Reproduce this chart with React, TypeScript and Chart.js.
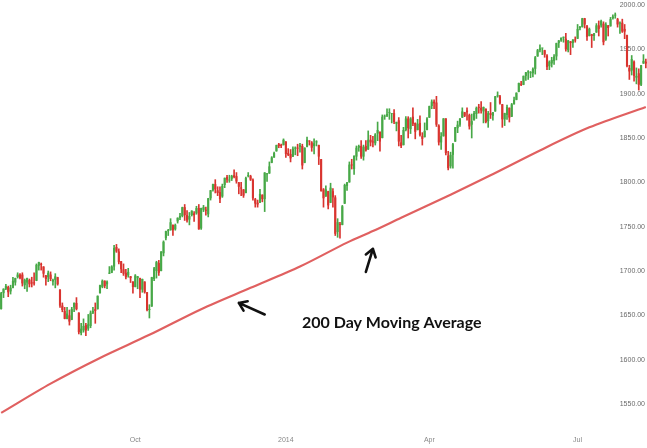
import React, { useEffect, useRef } from 'react';
import { Chart, registerables } from 'chart.js';

Chart.register(...registerables);

// ---------- categories (trading days) ----------
const startDate = '2013-07-11';
const endDate = '2014-08-12';
const marketHolidays = [
  '2013-09-02', '2013-11-28', '2013-12-25', '2014-01-01', '2014-01-20',
  '2014-02-17', '2014-04-18', '2014-05-26', '2014-07-04',
];

function buildTradingDays(): string[] {
  const out: string[] = [];
  const d = new Date(startDate + 'T00:00:00Z');
  const end = new Date(endDate + 'T00:00:00Z');
  while (d <= end) {
    const wd = d.getUTCDay();
    const s = d.toISOString().slice(0, 10);
    if (wd !== 0 && wd !== 6 && !marketHolidays.includes(s)) out.push(s);
    d.setUTCDate(d.getUTCDate() + 1);
  }
  return out;
}
const dates = buildTradingDays();

// ---------- OHLC series ----------
const opens = [
  // Jul 2013
  1657,1675,1680,1682,1677,1681,1687,1693,1696,1696,1684,1687,1690,1687,1687,
  // Aug
  1689,1706,1708,1705,1695,1693,1696,1688,1690,1693,1679,1661,1655,1646,1650,1645,1659,1664,1653,1630,1633,1639,
  // Sep
  1635,1638,1653,1657,1657,1675,1682,1689,1685,1697,1698,1705,1727,1722,1711,1702,1698,1695,1694,1688,
  // Oct
  1682,1692,1692,1679,1688,1676,1656,1660,1691,1700,1709,1700,1720,1737,1745,1746,1752,1747,1756,1760,1762,1772,1763,
  // Nov
  1758,1763,1765,1765,1771,1748,1769,1769,1764,1782,1791,1798,1791,1789,1784,1797,1806,1802,1804,1808,
  // Dec
  1807,1800,1794,1792,1788,1807,1807,1803,1781,1777,1777,1786,1781,1809,1810,1822,1828,1835,1843,1842,1842,
  // Jan 2014
  1846,1833,1832,1829,1838,1839,1840,1841,1822,1840,1847,1845,1841,1845,1842,1826,1792,1784,1790,1777,1790,
  // Feb
  1783,1744,1753,1752,1776,1796,1800,1820,1815,1829,1839,1841,1829,1841,1837,1848,1846,1844,1855,
  // Mar
  1857,1850,1874,1875,1878,1877,1878,1866,1870,1845,1842,1859,1872,1860,1874,1867,1859,1867,1852,1851,1859,
  // Apr
  1873,1886,1891,1890,1864,1845,1852,1872,1830,1818,1831,1846,1861,1865,1873,1879,1881,1876,1865,1870,1877,
  // May
  1885,1884,1880,1883,1869,1878,1875,1880,1897,1897,1888,1871,1876,1884,1874,1888,1893,1902,1911,1910,1920,
  // Jun
  1924,1923,1923,1928,1942,1949,1951,1949,1943,1931,1934,1937,1942,1957,1960,1963,1962,1949,1959,1957,1961,
  // Jul
  1962,1974,1975,1985,1976,1965,1967,1965,1969,1977,1977,1979,1961,1977,1976,1985,1988,1984,1979,1980,1973,1966,
  // Aug
  1929,1926,1936,1918,1923,1910,1934,1936,
];
const highs = [
  1676,1680,1685,1683,1684,1693,1692,1698,1697,1698,1691,1692,1691,1693,1698,
  1708,1710,1709,1705,1695,1700,1699,1691,1697,1693,1679,1664,1659,1659,1656,1659,1664,1670,1653,1641,1646,1641,
  1651,1655,1659,1664,1672,1684,1690,1689,1689,1705,1706,1729,1730,1725,1711,1708,1702,1703,1694,1688,
  1696,1694,1692,1691,1688,1676,1662,1693,1704,1711,1712,1722,1734,1745,1747,1759,1752,1753,1760,1765,1772,1775,1768,
  1766,1768,1767,1773,1775,1771,1774,1772,1782,1791,1798,1803,1795,1795,1798,1805,1808,1808,1808,1814,
  1811,1800,1800,1792,1806,1811,1808,1804,1782,1780,1792,1786,1811,1810,1823,1829,1834,1842,1844,1843,1849,
  1846,1838,1837,1840,1840,1843,1844,1843,1839,1851,1847,1846,1849,1847,1842,1826,1793,1796,1790,1799,1793,
  1785,1759,1755,1774,1798,1800,1823,1826,1830,1841,1842,1847,1842,1847,1858,1853,1852,1855,1868,
  1857,1876,1876,1883,1883,1877,1882,1868,1873,1853,1862,1874,1874,1873,1884,1867,1871,1875,1856,1867,1873,
  1886,1893,1893,1897,1865,1856,1872,1872,1835,1834,1844,1862,1869,1872,1884,1879,1884,1877,1877,1880,1885,
  1888,1891,1885,1883,1880,1890,1879,1897,1902,1898,1888,1878,1887,1884,1889,1896,1901,1912,1914,1920,1924,
  1926,1925,1929,1942,1950,1955,1951,1949,1944,1937,1941,1944,1957,1960,1963,1964,1968,1960,1959,1961,1964,
  1978,1976,1985,1985,1977,1974,1967,1968,1979,1982,1983,1981,1980,1977,1986,1989,1991,1985,1981,1984,1978,1966,
  1932,1943,1937,1929,1928,1932,1944,1939,
];
const lows = [
  1657,1670,1679,1671,1674,1681,1684,1692,1691,1683,1680,1677,1682,1682,1684,
  1689,1701,1701,1693,1684,1688,1689,1684,1681,1684,1659,1654,1646,1646,1639,1645,1654,1656,1629,1628,1631,1627,
  1633,1636,1652,1641,1657,1675,1681,1681,1680,1697,1698,1701,1721,1708,1698,1695,1691,1693,1687,1675,
  1682,1680,1670,1676,1675,1655,1647,1660,1689,1692,1695,1700,1717,1735,1740,1746,1740,1746,1754,1758,1761,1757,1755,
  1752,1762,1756,1764,1747,1747,1767,1763,1761,1780,1790,1788,1785,1777,1783,1794,1800,1800,1802,1805,
  1799,1787,1785,1783,1788,1806,1802,1780,1772,1772,1777,1778,1767,1801,1810,1822,1828,1835,1839,1839,1842,
  1828,1830,1823,1829,1831,1830,1834,1815,1822,1840,1842,1835,1832,1841,1820,1790,1772,1784,1770,1777,1772,
  1740,1738,1737,1752,1776,1791,1800,1815,1809,1825,1835,1827,1825,1835,1837,1841,1840,1842,1847,
  1835,1850,1871,1874,1871,1867,1866,1858,1841,1839,1842,1858,1850,1855,1864,1849,1859,1852,1842,1851,1859,
  1873,1883,1883,1863,1842,1837,1852,1831,1814,1816,1816,1846,1856,1863,1873,1874,1870,1860,1850,1870,1872,
  1878,1878,1867,1867,1862,1872,1870,1880,1896,1888,1862,1864,1871,1868,1874,1888,1893,1902,1909,1910,1915,
  1916,1918,1919,1922,1942,1947,1944,1941,1927,1927,1930,1933,1938,1952,1959,1958,1948,1947,1944,1952,1958,
  1962,1972,1975,1974,1960,1965,1952,1960,1969,1965,1975,1955,1960,1965,1976,1984,1985,1975,1968,1969,1962,1930,
  1916,1921,1914,1911,1904,1909,1934,1929,
];
const closes = [
  1675,1680,1683,1676,1681,1689,1692,1696,1692,1686,1690,1692,1685,1686,1686,
  1707,1710,1707,1697,1691,1698,1691,1690,1694,1685,1661,1656,1646,1652,1643,1657,1664,1657,1631,1635,1638,1633,
  1640,1653,1655,1655,1672,1684,1689,1683,1688,1698,1705,1726,1722,1710,1702,1697,1693,1699,1692,1682,
  1695,1694,1679,1691,1676,1656,1656,1693,1703,1710,1698,1722,1733,1745,1745,1755,1746,1752,1760,1762,1772,1763,1757,
  1762,1768,1763,1771,1747,1771,1772,1768,1782,1791,1798,1792,1788,1781,1796,1805,1803,1803,1807,1806,
  1801,1795,1793,1785,1805,1808,1803,1782,1776,1775,1787,1781,1811,1810,1818,1828,1833,1842,1841,1841,1848,
  1832,1831,1827,1838,1838,1838,1842,1819,1839,1848,1846,1839,1844,1845,1829,1790,1782,1792,1774,1794,1783,
  1742,1755,1752,1773,1797,1800,1820,1819,1830,1839,1841,1829,1840,1836,1848,1845,1845,1854,1859,
  1846,1874,1874,1877,1878,1877,1868,1868,1846,1841,1859,1872,1861,1872,1866,1857,1866,1853,1849,1858,1872,
  1886,1891,1889,1865,1845,1852,1872,1833,1816,1831,1843,1862,1865,1872,1880,1875,1879,1863,1869,1878,1884,
  1884,1881,1885,1868,1878,1876,1879,1897,1897,1889,1871,1878,1885,1873,1888,1893,1901,1912,1910,1920,1924,
  1925,1924,1928,1941,1949,1951,1951,1944,1930,1936,1938,1942,1957,1960,1963,1963,1950,1960,1957,1961,1960,
  1973,1975,1985,1978,1964,1973,1965,1968,1977,1973,1982,1958,1978,1974,1984,1987,1988,1978,1979,1970,1970,1931,
  1925,1939,1920,1920,1910,1932,1937,1934,
];

// ---------- 200 day moving average ----------
const maDates = [
  '2013-07-11', '2013-08-09', '2013-09-10', '2013-10-09', '2013-11-08', '2013-12-10',
  '2014-01-10', '2014-02-10', '2014-02-26', '2014-03-14', '2014-04-14', '2014-05-08',
  '2014-06-09', '2014-07-09', '2014-08-12',
];
const maValues = [
  1540, 1573, 1602, 1628, 1657, 1681,
  1705, 1732, 1745, 1760, 1786, 1808,
  1836, 1862, 1885,
];

// ---------- axis ticks ----------
const yTickValues = [1550, 1600, 1650, 1700, 1750, 1800, 1850, 1900, 1950, 2000];
const xTickDates = ['2013-10-01', '2014-01-02', '2014-04-01', '2014-07-01'];
const xTickLabels = ['Oct', '2014', 'Apr', 'Jul'];

// ---------- annotations (in data coordinates) ----------
const annotationText = '200 Day Moving Average';
const annotationTextDate = '2014-03-10';
const annotationTextValue = 1642;
const arrowTipDates = ['2013-12-03', '2014-02-26'];
const arrowTipValues = [1664, 1725];
const arrowTailDates = ['2013-12-18', '2014-02-21'];
const arrowTailValues = [1651, 1699];

const UP = '#47a847';
const DOWN = '#d9342f';

const annotationPlugin = {
  id: 'maAnnotations',
  afterDraw(chart: any) {
    const { ctx, scales } = chart;
    const x = scales.x;
    const y = scales.y;
    const px = (d: string) => x.getPixelForValue(dates.indexOf(d));
    ctx.save();
    ctx.strokeStyle = '#111';
    ctx.lineWidth = 2.6;
    ctx.lineCap = 'round';
    ctx.lineJoin = 'round';
    for (let i = 0; i < arrowTipDates.length; i++) {
      const tx = px(arrowTipDates[i]);
      const ty = y.getPixelForValue(arrowTipValues[i]);
      const sx = px(arrowTailDates[i]);
      const sy = y.getPixelForValue(arrowTailValues[i]);
      const ang = Math.atan2(ty - sy, tx - sx);
      const hl = 9;
      ctx.beginPath();
      ctx.moveTo(sx, sy);
      ctx.lineTo(tx, ty);
      ctx.moveTo(tx - hl * Math.cos(ang - 0.6), ty - hl * Math.sin(ang - 0.6));
      ctx.lineTo(tx, ty);
      ctx.lineTo(tx - hl * Math.cos(ang + 0.6), ty - hl * Math.sin(ang + 0.6));
      ctx.stroke();
    }
    ctx.fillStyle = '#111';
    ctx.font = 'bold 16px Lato, "Open Sans", sans-serif';
    ctx.textAlign = 'center';
    ctx.textBaseline = 'middle';
    ctx.fillText(annotationText, px(annotationTextDate), y.getPixelForValue(annotationTextValue));
    ctx.restore();
  },
};

export default function App() {
  const canvasRef = useRef<HTMLCanvasElement | null>(null);

  useEffect(() => {
    if (!canvasRef.current) return;
    const bodyData = opens.map((o, i) => [o, closes[i]]);
    const wickData = lows.map((l, i) => [l, highs[i]]);
    const colors = opens.map((o, i) => (closes[i] >= o ? UP : DOWN));
    const maData = maDates.map((d, i) => ({ x: d, y: maValues[i] }));

    const chart = new Chart(canvasRef.current, {
      type: 'bar',
      data: {
        labels: dates,
        datasets: [
          {
            type: 'bar',
            data: bodyData as any,
            backgroundColor: colors,
            borderWidth: 0,
            grouped: false,
            barPercentage: 0.9,
            categoryPercentage: 1,
            minBarLength: 1,
          } as any,
          {
            type: 'bar',
            data: wickData as any,
            backgroundColor: colors,
            borderWidth: 0,
            grouped: false,
            barThickness: 1,
          } as any,
          {
            type: 'line',
            data: maData as any,
            borderColor: '#e06060',
            borderWidth: 2.2,
            pointRadius: 0,
            tension: 0.3,
            fill: false,
          } as any,
        ],
      },
      options: {
        animation: false,
        responsive: false,
        devicePixelRatio: 1,
        events: [],
        layout: { padding: 0 },
        plugins: { legend: { display: false }, tooltip: { enabled: false } },
        scales: {
          x: {
            type: 'category',
            offset: true,
            grid: { display: false, drawTicks: false },
            border: { display: false },
            ticks: {
              autoSkip: false,
              maxRotation: 0,
              padding: 6,
              color: '#888',
              font: { size: 7, family: 'Arial, "Liberation Sans", sans-serif' },
              callback: (val: any) => {
                const k = xTickDates.indexOf(dates[val as number]);
                return k >= 0 ? xTickLabels[k] : '';
              },
            },
            afterBuildTicks: (s: any) => {
              s.ticks = xTickDates.map((d) => ({ value: dates.indexOf(d) }));
            },
            afterFit: (s: any) => {
              s.height = 18;
              s.paddingLeft = 0;
              s.paddingRight = 0;
            },
          },
          y: {
            type: 'linear',
            position: 'right',
            min: 1520.7,
            max: 2005.6,
            grid: { display: false, drawTicks: false },
            border: { display: false },
            ticks: {
              mirror: true,
              padding: -2,
              color: '#6a6a6a',
              font: { size: 7, family: 'Arial, "Liberation Sans", sans-serif' },
              callback: (v: any) => Number(v).toFixed(2),
            },
            afterBuildTicks: (s: any) => {
              s.ticks = yTickValues.map((v) => ({ value: v }));
            },
            afterFit: (s: any) => {
              s.width = 0;
              s.paddingTop = 0;
              s.paddingBottom = 0;
            },
          },
        },
      } as any,
      plugins: [annotationPlugin],
    });
    return () => chart.destroy();
  }, []);

  return (
    <div style={{ position: 'absolute', left: 0, top: 0, width: 647, height: 448, background: '#fff' }}>
      <canvas ref={canvasRef} width={647} height={448} />
    </div>
  );
}
